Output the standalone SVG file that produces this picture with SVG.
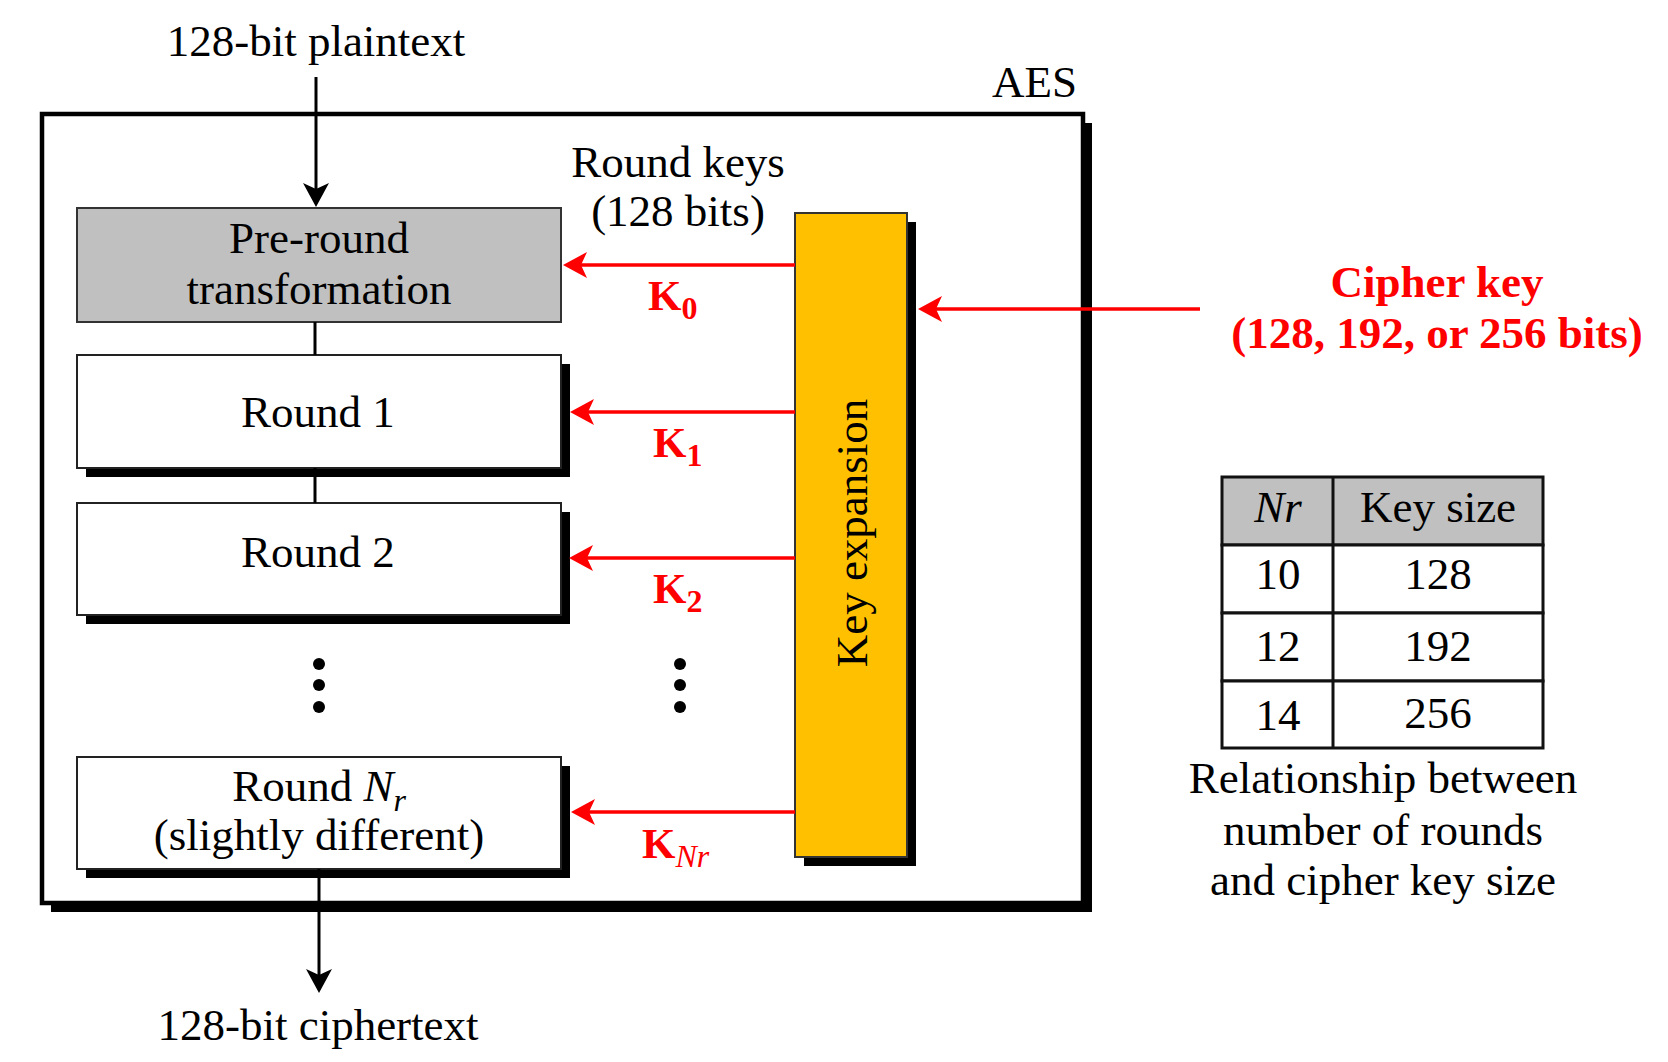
<svg xmlns="http://www.w3.org/2000/svg" width="1668" height="1062" viewBox="0 0 1668 1062">
<defs>
<style>
text{font-family:"Liberation Serif","Times New Roman",serif;font-size:45px;fill:#000}
.c{text-anchor:middle}
.red{fill:#FF0000;font-weight:bold}
.k{fill:#FF0000;font-weight:bold;font-size:43px}
.sub{font-size:32px}
.box{fill:#fff;stroke:#222;stroke-width:2}
.shadow{fill:#000}
.rl{stroke:#FF0000;stroke-width:3.5;fill:none}
.bl{stroke:#000;stroke-width:3;fill:none}
.cell{fill:#fff;stroke:#111;stroke-width:3}
</style>
<marker id="ar" viewBox="0 0 24 26" refX="18" refY="13" markerWidth="24" markerHeight="26" markerUnits="userSpaceOnUse" orient="auto">
<path d="M24,13 L0,0 L6,13 L0,26 Z" fill="#FF0000"/>
</marker>
<marker id="ab" viewBox="0 0 24 26" refX="18" refY="13" markerWidth="24" markerHeight="26" markerUnits="userSpaceOnUse" orient="auto">
<path d="M24,13 L0,0 L6,13 L0,26 Z" fill="#000"/>
</marker>
</defs>
<rect width="1668" height="1062" fill="#fff"/>

<g id="aes-frame">
<rect class="shadow" x="51" y="123" width="1041" height="789"/>
<rect x="42" y="114" width="1041" height="789" fill="#fff" stroke="#000" stroke-width="4.5"/>
<text x="1077" y="97" text-anchor="end">AES</text>
</g>

<g id="plaintext"><text class="c" x="316" y="56">128-bit plaintext</text></g>
<g id="ciphertext"><text class="c" x="318" y="1040">128-bit ciphertext</text></g>

<g id="pre-round">
<rect x="77" y="208" width="484" height="114" fill="#C0C0C0" stroke="#333" stroke-width="2"/>
<text class="c" x="319" y="253">Pre-round</text>
<text class="c" x="319" y="304">transformation</text>
</g>

<g id="round1">
<rect class="shadow" x="86" y="364" width="484" height="113"/>
<rect class="box" x="77" y="355" width="484" height="113"/>
<text class="c" x="318" y="427">Round 1</text>
</g>

<g id="round2">
<rect class="shadow" x="86" y="512" width="484" height="112"/>
<rect class="box" x="77" y="503" width="484" height="112"/>
<text class="c" x="318" y="567">Round 2</text>
</g>

<g id="roundNr">
<rect class="shadow" x="86" y="766" width="484" height="112"/>
<rect class="box" x="77" y="757" width="484" height="112"/>
<text class="c" x="319" y="801">Round <tspan font-style="italic">N</tspan><tspan font-style="italic" class="sub" dy="10">r</tspan></text>
<text class="c" x="319" y="850">(slightly different)</text>
</g>

<g id="dots">
<circle cx="319" cy="664" r="6"/>
<circle cx="319" cy="685" r="6"/>
<circle cx="319" cy="707" r="6"/>
<circle cx="680" cy="664" r="6"/>
<circle cx="680" cy="685" r="6"/>
<circle cx="680" cy="707" r="6"/>
</g>

<g id="key-expansion">
<rect class="shadow" x="804" y="222" width="112" height="644"/>
<rect x="795" y="213" width="112" height="644" fill="#FFC000" stroke="#333" stroke-width="2"/>
<text class="c" transform="translate(867,533) rotate(-90)">Key expansion</text>
</g>

<g id="round-keys-label">
<text class="c" x="678" y="177">Round keys</text>
<text class="c" x="678" y="226">(128 bits)</text>
</g>

<g id="cipher-key">
<text class="c red" font-size="44" x="1437" y="297">Cipher key</text>
<text class="c red" font-size="44" x="1437" y="348">(128, 192, or 256 bits)</text>
</g>

<g id="connectors">
<line class="bl" x1="316" y1="77" x2="316" y2="201" marker-end="url(#ab)"/>
<line class="bl" x1="315" y1="322" x2="315" y2="355"/>
<line class="bl" x1="315" y1="468" x2="315" y2="503"/>
<line class="bl" x1="319" y1="869" x2="319" y2="987" marker-end="url(#ab)"/>
<line class="rl" x1="795" y1="265" x2="569" y2="265" marker-end="url(#ar)"/>
<line class="rl" x1="795" y1="412" x2="576" y2="412" marker-end="url(#ar)"/>
<line class="rl" x1="795" y1="558" x2="575" y2="558" marker-end="url(#ar)"/>
<line class="rl" x1="795" y1="812" x2="577" y2="812" marker-end="url(#ar)"/>
<line class="rl" x1="1200" y1="309" x2="924" y2="309" marker-end="url(#ar)"/>
</g>

<g id="key-labels">
<text class="k" x="648" y="310">K<tspan class="sub" dy="9">0</tspan></text>
<text class="k" x="653" y="457">K<tspan class="sub" dy="9">1</tspan></text>
<text class="k" x="653" y="603">K<tspan class="sub" dy="9">2</tspan></text>
<text class="k" x="642" y="858">K<tspan class="sub" dy="9" font-style="italic" font-weight="normal">Nr</tspan></text>
</g>

<g id="table">
<rect x="1222" y="477" width="321" height="68" fill="#C0C0C0" stroke="#111" stroke-width="3"/>
<rect class="cell" x="1222" y="545" width="321" height="68"/>
<rect class="cell" x="1222" y="613" width="321" height="68"/>
<rect class="cell" x="1222" y="681" width="321" height="67"/>
<line x1="1333" y1="477" x2="1333" y2="748" stroke="#111" stroke-width="3"/>
<text class="c" x="1278" y="522" font-style="italic">Nr</text>
<text class="c" x="1438" y="522">Key size</text>
<text class="c" x="1278" y="589">10</text>
<text class="c" x="1438" y="589">128</text>
<text class="c" x="1278" y="661">12</text>
<text class="c" x="1438" y="661">192</text>
<text class="c" x="1278" y="730">14</text>
<text class="c" x="1438" y="728">256</text>
</g>

<g id="table-caption">
<text class="c" x="1383" y="793">Relationship between</text>
<text class="c" x="1383" y="845">number of rounds</text>
<text class="c" x="1383" y="895">and cipher key size</text>
</g>
</svg>
